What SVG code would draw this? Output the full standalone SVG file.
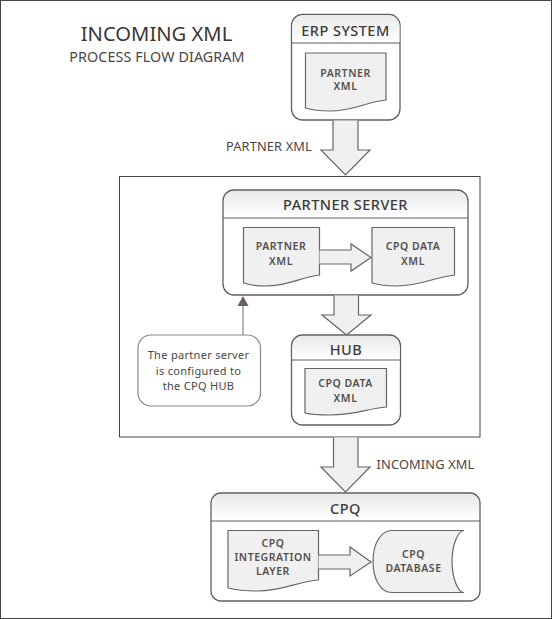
<svg xmlns="http://www.w3.org/2000/svg" width="552" height="619" viewBox="0 0 552 619">
<style>
text{font-family:"Noto Sans","Open Sans","DejaVu Sans",sans-serif;text-anchor:middle;fill:#3f3b38}
.box{fill:#fff;stroke:#5f5f5f;stroke-width:1.3}
.hdr{fill:url(#hg);stroke:none}
.ln{stroke:#5f5f5f;stroke-width:1.2;fill:none}
.doc,.arr{fill:#f0f0f0;stroke:#666;stroke-width:1.2}
.h{font-size:14.500px;font-weight:500;letter-spacing:.45px}
.d{font-size:10.500px;font-weight:600;letter-spacing:.55px;fill:#55504c}
.l{font-size:12.800px;letter-spacing:.15px;fill:#4a4643}
.c{font-size:11px;letter-spacing:.3px;fill:#4a4643}
</style>
<defs>
<linearGradient id="hg" x1="0" y1="0" x2="0" y2="1"><stop offset="0" stop-color="#e9e9e9"/><stop offset="1" stop-color="#fff"/></linearGradient>
</defs>
<rect width="552" height="619" fill="#fff"/>
<rect x="0.500" y="0.500" width="551" height="618" fill="none" stroke="#444" stroke-width="1"/>
<g id="title">
<text x="156.500" y="41" style="font-size:20.200px;fill:#3a3634">INCOMING XML</text>
<text x="157" y="62" style="font-size:14.300px;letter-spacing:.1px;fill:#4a4643">PROCESS FLOW DIAGRAM</text>
</g>
<g id="container"><rect x="119.500" y="176.500" width="360.500" height="260.500" fill="#fff" stroke="#444" stroke-width="1"/></g>
<g id="erp-system">
<rect class="box" x="291.500" y="14.500" width="108.500" height="105.500" rx="11"/>
<path class="hdr" d="M292.500 42.500V26a11 11 0 0 1 11-11h85a11 11 0 0 1 11 11v16.500z"/>
<path class="ln" d="M291.500 43H400"/>
<text class="h" x="345.500" y="36">ERP SYSTEM</text>
<path class="doc" d="M305.500 53H386V100C365 102 355 111 330 111C320 111 312 110 305.500 108z"/>
<text class="d" x="345.500" y="77">PARTNER</text><text class="d" x="345.500" y="89.500">XML</text>
</g>
<g id="partner-server">
<rect class="box" x="223" y="190" width="245" height="105" rx="11"/>
<path class="hdr" d="M224 217.500V201a10 10 0 0 1 10-10h223a10 10 0 0 1 10 10v16.500z"/>
<path class="ln" d="M223 218H468"/>
<text class="h" x="345.500" y="210">PARTNER SERVER</text>
<path class="doc" d="M243.500 227.500H319.500V275C300 277 290 286 265 286C257 286 250 285 243.500 283z"/>
<text class="d" x="281" y="250">PARTNER</text><text class="d" x="281" y="265">XML</text>
<path class="doc" d="M372 227.500H454.500V275C434 277 422 286 396 286C387 286 379 285 372 283z"/>
<text class="d" x="413" y="250">CPQ DATA</text><text class="d" x="413" y="265">XML</text>
</g>
<g id="hub">
<rect class="box" x="291.500" y="335" width="109" height="90" rx="11"/>
<path class="hdr" d="M292.500 359.500V346a10 10 0 0 1 10-10h87a10 10 0 0 1 10 10v13.500z"/>
<path class="ln" d="M291.500 360H400.500"/>
<text class="h" x="346" y="355">HUB</text>
<path class="doc" d="M305 368.500H386.500V407C366 409 355 415 330 415C320 415 312 415 305 413z"/>
<text class="d" x="345.500" y="387">CPQ DATA</text><text class="d" x="345.500" y="402">XML</text>
</g>
<g id="note">
<rect x="138" y="335" width="122.500" height="71" rx="13" fill="#fff" stroke="#8a8580" stroke-width="1.2"/>
<text class="c" x="198.500" y="359">The partner server</text>
<text class="c" x="198.500" y="374.500">is configured to</text>
<text class="c" x="198.500" y="390">the CPQ HUB</text>
</g>
<g id="cpq">
<rect class="box" x="211" y="493" width="269" height="108" rx="10"/>
<path class="hdr" d="M212 520.500V503a9 9 0 0 1 9-9h249a9 9 0 0 1 9 9v17.500z"/>
<path class="ln" d="M211 521H480"/>
<text class="h" x="345.500" y="514">CPQ</text>
<path class="doc" d="M228 530.500H318.500V580C298 581 285 591 257 591C246 591 236 590 228 588z"/>
<text class="d" x="273" y="547">CPQ</text><text class="d" x="273" y="561">INTEGRATION</text><text class="d" x="273" y="575">LAYER</text>
<path class="doc" d="M464 530.500H392C380 530.500 373 545 373 561.500C373 578 380 592.500 392 592.500H464C458 592.500 452 578 452 561.500C452 545 458 530.500 464 530.500z"/>
<text class="d" x="413.500" y="558">CPQ</text><text class="d" x="413.500" y="572">DATABASE</text>
</g>
<g id="connectors">
<path class="arr" d="M333 120.500V150H321L345.500 175L370 150H358V120.500"/>
<path class="arr" d="M319.500 250H351V244L371 257.500L351 271V264H319.500"/>
<path class="arr" d="M334 295.500V315H322L346.500 335L371 315H358.500V295.500"/>
<path class="arr" d="M333.500 437.500V467H321L345.500 492L370 467H358V437.500"/>
<path class="arr" d="M318.500 555H350V547L371 562L350 576V569H318.500"/>
<path d="M243 335V306" stroke="#8a8580" stroke-width="1.2" fill="none"/>
<path d="M243 296L248.500 306H237.500z" fill="#6b5f58"/>
</g>
<g id="connector-labels">
<text class="l" x="269" y="151">PARTNER XML</text>
<text class="l" x="425.500" y="469">INCOMING XML</text>
</g>
</svg>
